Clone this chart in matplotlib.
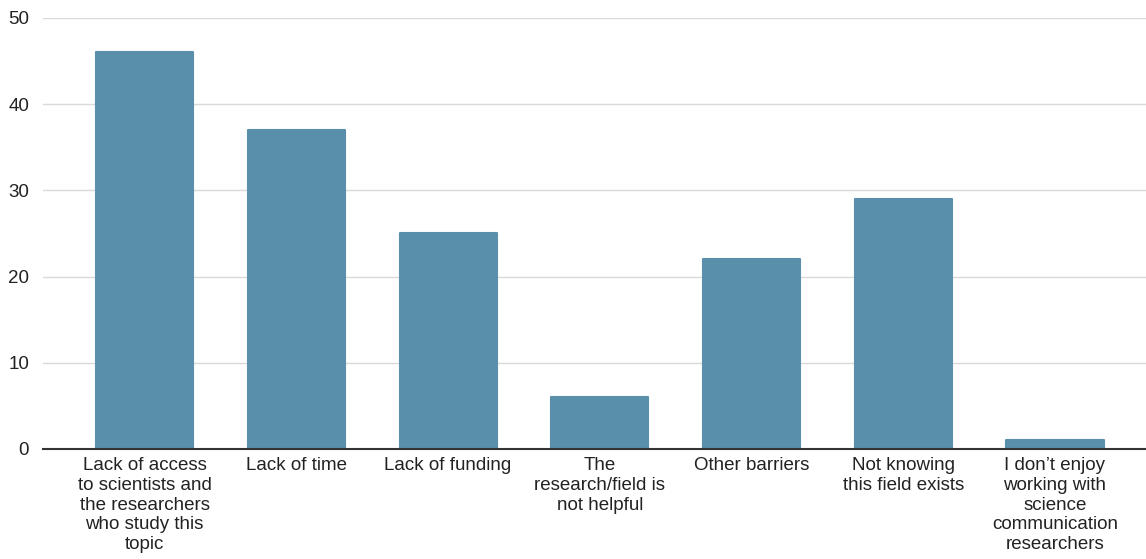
import matplotlib
matplotlib.use("Agg")
import matplotlib.pyplot as plt

categories = [
    "Lack of access\nto scientists and\nthe researchers\nwho study this\ntopic",
    "Lack of time",
    "Lack of funding",
    "The\nresearch/field is\nnot helpful",
    "Other barriers",
    "Not knowing\nthis field exists",
    "I don\u2019t enjoy\nworking with\nscience\ncommunication\nresearchers",
]
counts = [46, 37, 25, 6, 22, 29, 1]
yticks = [0, 10, 20, 30, 40, 50]

plt.rcParams["font.family"] = ["Liberation Sans", "DejaVu Sans"]

fig = plt.figure(figsize=(11.46, 5.59), dpi=100)
ax = fig.add_axes([0.0375, 0.1968, 0.9625, 0.7712])

x = list(range(len(categories)))
bars = ax.bar(x, counts, width=0.64, color="#5a8fac", edgecolor="#5a8fac",
              linewidth=1.5, zorder=3)
for b in bars:
    b.set_joinstyle("round")

ax.set_xlim(-0.67, 6.6)
ax.set_ylim(0, 50)
ax.set_yticks(yticks)
ax.set_xticks(x)
ax.set_xticklabels(categories, fontsize=13.5, color="#222222", linespacing=1.2)
ax.tick_params(axis="y", labelsize=13.5, labelcolor="#222222", length=0, pad=10)
ax.tick_params(axis="x", length=0, pad=6)

ax.yaxis.grid(True, color="#d9d9d9", linewidth=1, zorder=0)
ax.set_axisbelow(True)
for side in ("top", "right", "left"):
    ax.spines[side].set_visible(False)
ax.spines["bottom"].set_color("#333333")
ax.spines["bottom"].set_linewidth(1.5)
ax.spines["bottom"].set_zorder(4)

fig.savefig("out.png", dpi=100)
